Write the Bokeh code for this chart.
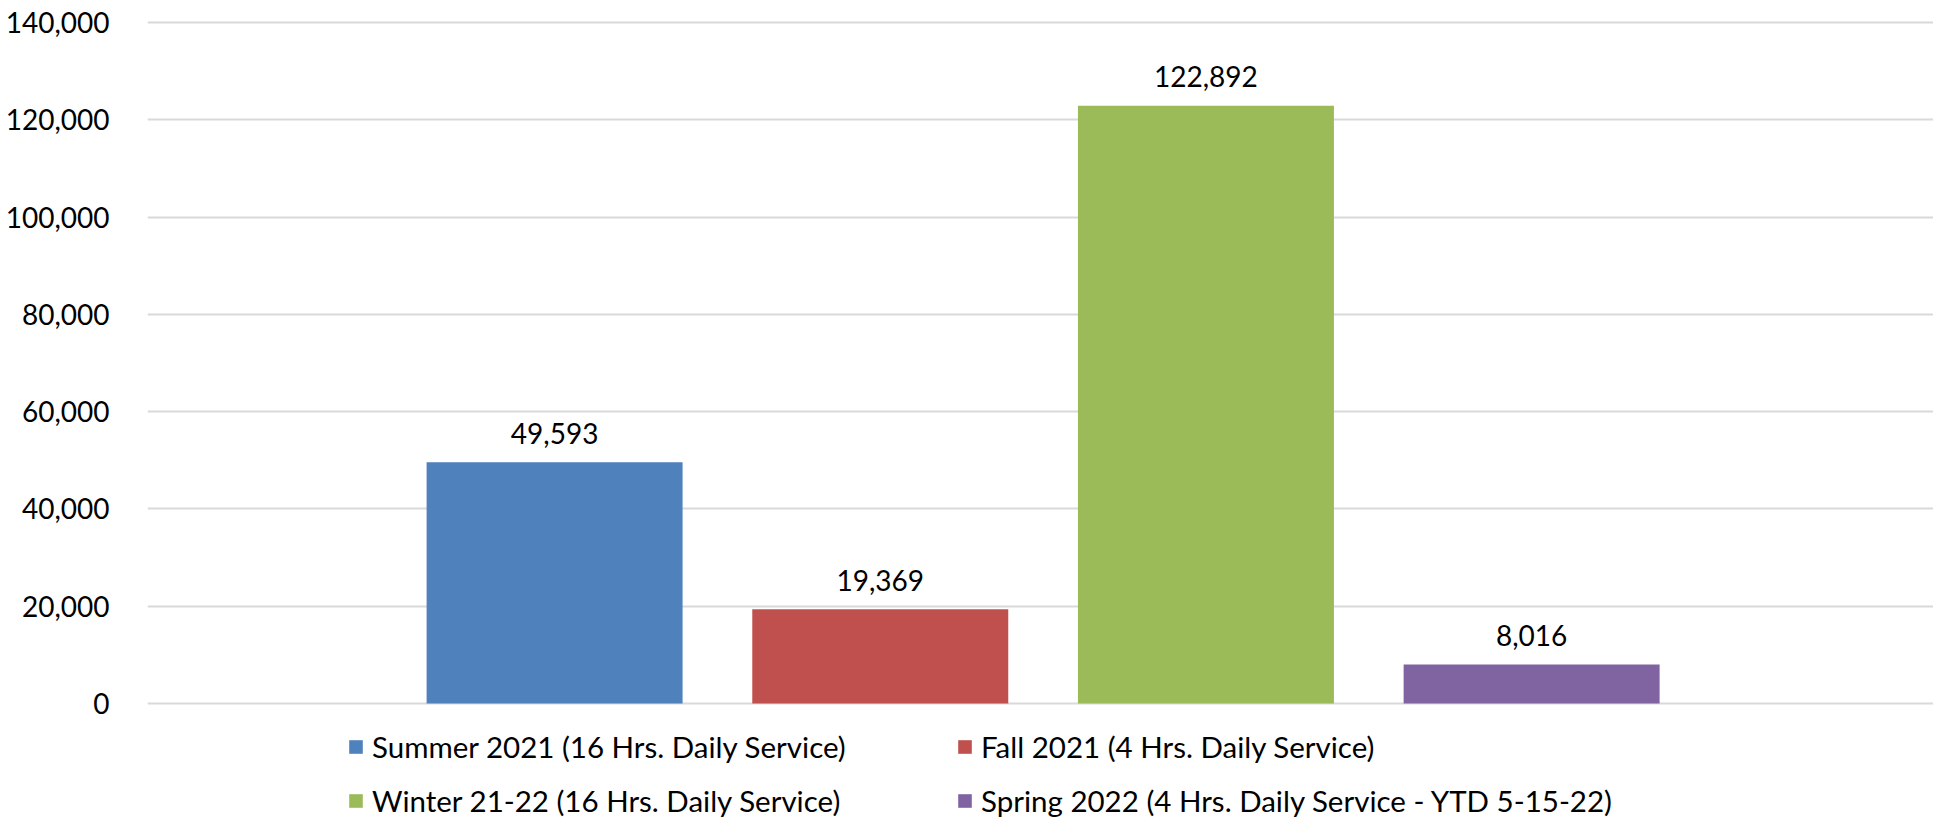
from bokeh.plotting import figure
from bokeh.models import ColumnDataSource, Range1d, Legend, LegendItem, NumeralTickFormatter, FixedTicker
from bokeh.embed import file_html
from bokeh.resources import INLINE
from bokeh.core.properties import value

# ---- data ----
series = [
    "Summer 2021 (16 Hrs. Daily Service)",
    "Fall 2021 (4 Hrs. Daily Service)",
    "Winter 21-22 (16 Hrs. Daily Service)",
    "Spring 2022 (4 Hrs. Daily Service - YTD 5-15-22)",
]
riders = [49593, 19369, 122892, 8016]
colors = ["#4F81BD", "#C0504D", "#9BBB59", "#8064A2"]
y_ticks = [0, 20000, 40000, 60000, 80000, 100000, 120000, 140000]

FONT = "Lato"
FS = "28px"
LEG_FS = "29.5px"

# ---- layout (pixels) ----
W, H = 1933, 818
LEFT = 147          # frame left
TOP_PX = 22         # pixel row of the top gridline
ZERO_PX = 703       # pixel row of the zero line
unit = y_ticks[-1] / (ZERO_PX - TOP_PX)

src = ColumnDataSource(dict(
    x=list(range(len(series))),
    top=riders,
    color=colors,
    label=[f"{v:,}" for v in riders],
))

p = figure(width=W, height=H, output_backend="svg", toolbar_location=None,
           x_range=Range1d(-1.25, len(series) - 1 + 1.234),
           y_range=Range1d(-(H - ZERO_PX) * unit, y_ticks[-1] + TOP_PX * unit),
           min_border_left=LEFT, min_border_top=0, min_border_right=0,
           min_border_bottom=0)
p.outline_line_color = None
p.background_fill_color = "white"
p.border_fill_color = "white"

bars = p.vbar(x="x", top="top", width=0.786, source=src, fill_color="color", line_color=None)

p.text(x="x", y="top", text="label", source=src, text_align="center", text_baseline="middle",
       y_offset=-29, text_font=value(FONT), text_font_size=FS, text_color="#000000")

p.xaxis.visible = False
p.xgrid.visible = False
p.ygrid.grid_line_color = "#D9D9D9"
p.ygrid.grid_line_width = 2
p.ygrid.level = "underlay"
yax = p.yaxis[0]
yax.ticker = FixedTicker(ticks=y_ticks)
yax.formatter = NumeralTickFormatter(format="0,0")
yax.axis_line_color = None
yax.major_tick_line_color = None
yax.minor_tick_line_color = None
yax.major_label_standoff = 32
yax.major_label_text_font = FONT
yax.major_label_text_font_size = FS
yax.major_label_text_color = "#000000"

# two legend columns: (Summer, Winter) and (Fall, Spring)
for col, x0 in ((0, 200), (1, 809)):
    idx = [i for i in range(len(series)) if i % 2 == col]
    items = [LegendItem(label=series[i], renderers=[bars], index=i) for i in idx]
    legend = Legend(items=items, location=(x0, 0), orientation="vertical",
                    glyph_width=17, glyph_height=17, label_height=36, label_standoff=8,
                    spacing=18, padding=0, margin=0,
                    label_text_font=FONT, label_text_font_size=LEG_FS,
                    label_text_color="#000000",
                    border_line_color=None, background_fill_alpha=0)
    p.add_layout(legend, "center")

open("out.html", "w").write(file_html(p, INLINE))
